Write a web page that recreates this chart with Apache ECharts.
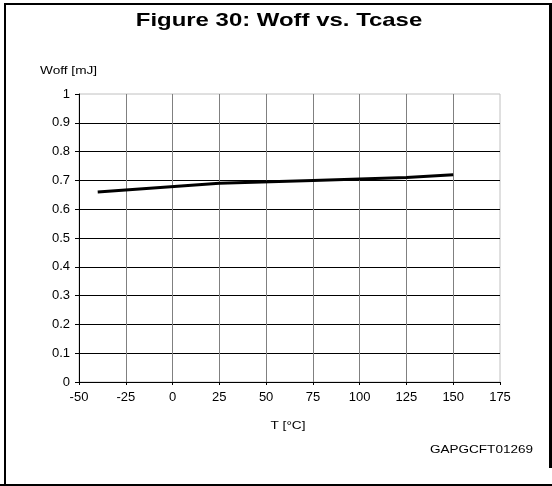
<!DOCTYPE html>
<html>
<head>
<meta charset="utf-8">
<script src="https://cdn.jsdelivr.net/npm/echarts@6/dist/echarts.min.js"></script>
<style>
    html, body { margin: 0; padding: 0; background: #fff; }
    #chart { width: 552px; height: 486px; }
</style>
</head>
<body>
<div id="chart"></div>
<script>
// temperature points (°C) and Woff values (mJ)
var tcase = [-40, 25, 75, 125, 150];
var woff = [0.66, 0.69, 0.70, 0.71, 0.72];
var xTicks = [-50, -25, 0, 25, 50, 75, 100, 125, 150, 175];

var FONT = '"Liberation Sans", Arial, sans-serif';

var lineData = [];
for (var i = 0; i < tcase.length; i++) {
    lineData.push([tcase[i], woff[i]]);
}

// the original text is a bit wider than Arial, stretch it a little
function label(txt, x, y, size, align, bold, sx) {
    return {
        type: 'text',
        x: x,
        y: y,
        scaleX: sx,
        style: {
            text: txt,
            font: (bold ? 'bold ' : '') + size + 'px ' + FONT,
            fill: '#000',
            textAlign: align,
            textVerticalAlign: 'middle'
        }
    };
}

var chart = echarts.init(document.getElementById('chart'));
var option = {
    animation: false,
    backgroundColor: '#fff',
    grid: {
        left: 79,
        right: 52,
        top: 94,
        bottom: 104,
        show: true,
        borderColor: '#c0c0c0',
        borderWidth: 1
    },
    xAxis: {
        type: 'value',
        min: xTicks[0],
        max: xTicks[xTicks.length - 1],
        interval: 25,
        axisLine: {show: true, onZero: false, lineStyle: {color: '#000', width: 1}},
        axisTick: {show: true, length: 3, lineStyle: {color: '#000'}},
        axisLabel: {color: '#000', fontSize: 13, fontFamily: FONT, margin: 9},
        splitLine: {show: true, showMinLine: false, showMaxLine: false, lineStyle: {color: '#808080', width: 1}}
    },
    yAxis: {
        type: 'value',
        min: 0,
        max: 1,
        interval: 0.1,
        axisLine: {show: true, onZero: false, lineStyle: {color: '#000', width: 1}},
        axisTick: {show: true, length: 4, lineStyle: {color: '#000'}},
        axisLabel: {color: '#000', fontSize: 13, fontFamily: FONT, margin: 9},
        splitLine: {show: true, showMinLine: false, showMaxLine: false, lineStyle: {color: '#000', width: 1}}
    },
    series: [
        {
            name: 'Woff',
            type: 'line',
            data: lineData,
            symbol: 'none',
            lineStyle: {color: '#000', width: 3},
            z: 5
        }
    ],
    graphic: [
        // frame around the figure (right side stops short of the bottom)
        {type: 'line', shape: {x1: 4, y1: 4, x2: 552, y2: 4}, style: {stroke: '#000', lineWidth: 2}},
        {type: 'line', shape: {x1: 5, y1: 3, x2: 5, y2: 486}, style: {stroke: '#000', lineWidth: 2}},
        {type: 'line', shape: {x1: 0, y1: 485, x2: 552, y2: 485}, style: {stroke: '#000', lineWidth: 2}},
        {type: 'line', shape: {x1: 550.5, y1: 3, x2: 550.5, y2: 468}, style: {stroke: '#000', lineWidth: 3}},
        label('Figure 30: Woff vs. Tcase', 279, 21, 19, 'center', true, 1.26),
        label('Woff [mJ]', 40, 71, 11, 'left', false, 1.24),
        label('T [°C]', 288, 426, 11, 'center', false, 1.24),
        label('GAPGCFT01269', 533, 450, 11, 'right', false, 1.23)
    ]
};
chart.setOption(option);
</script>
</body>
</html>
